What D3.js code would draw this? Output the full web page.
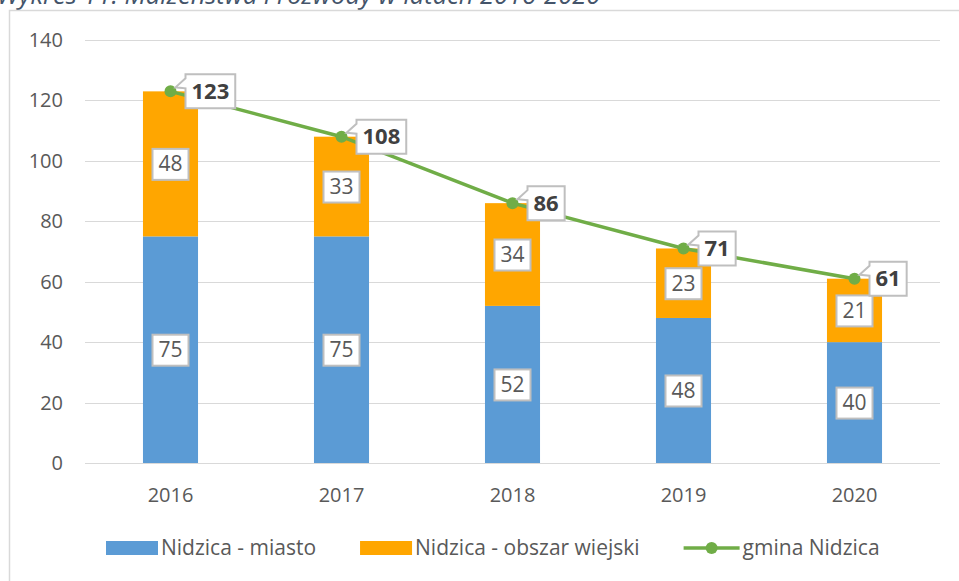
<!DOCTYPE html>
<html>
<head>
<meta charset="utf-8">
<script src="https://cdn.jsdelivr.net/npm/d3@7"></script>
<style>
  body { margin: 0; background: #fff; }
  text { font-family: 'Open Sans', sans-serif; }
</style>
</head>
<body>
<div id="chart"></div>
<script>
const years = ['2016', '2017', '2018', '2019', '2020']
const miasto = [75, 75, 52, 48, 40]
const wiejski = [48, 33, 34, 23, 21]
const gmina = [123, 108, 86, 71, 61]
const yTicks = [0, 20, 40, 60, 80, 100, 120, 140]
const seriesNames = ['Nidzica - miasto', 'Nidzica - obszar wiejski', 'gmina Nidzica']

const width = 959
const height = 581
const blue = '#5B9BD5'
const orange = '#FFA600'
const green = '#70AD47'

const svg = d3
  .select('#chart')
  .append('svg')
  .attr('width', width)
  .attr('height', height)

// title, cut off at the top as in the source
svg.append('text')
  .text('Wykres 11. Małżeństwa i rozwody w latach 2016-2020')
  .attr('x', -3)
  .attr('y', 4)
  .attr('font-size', 25.5)
  .attr('font-style', 'italic')
  .attr('fill', '#44546A')

svg.append('rect')
  .attr('x', 9.5)
  .attr('y', 10.5)
  .attr('width', 960)
  .attr('height', 600)
  .attr('fill', 'none')
  .attr('stroke', '#d9d9d9')
  .attr('stroke-width', 1.5)

const x = d3.scaleBand().domain(years).range([85, 940]).paddingInner(0.678).paddingOuter(0.339)
const y = d3.scaleLinear().domain([0, 140]).range([463, 40])

// gridlines + y labels
svg.selectAll('.grid')
  .data(yTicks)
  .enter()
  .append('line')
  .attr('x1', 85)
  .attr('x2', 940)
  .attr('y1', d => Math.round(y(d)) + 0.5)
  .attr('y2', d => Math.round(y(d)) + 0.5)
  .attr('stroke', '#d9d9d9')
  .attr('stroke-width', 1)

svg.selectAll('.ytick')
  .data(yTicks)
  .enter()
  .append('text')
  .text(d => d)
  .attr('x', 63)
  .attr('y', d => y(d))
  .attr('dy', '0.35em')
  .attr('text-anchor', 'end')
  .attr('font-size', 20)
  .attr('fill', '#595959')

svg.selectAll('.xtick')
  .data(years)
  .enter()
  .append('text')
  .text(d => d)
  .attr('x', d => x(d) + x.bandwidth() / 2)
  .attr('y', 495)
  .attr('dy', '0.35em')
  .attr('text-anchor', 'middle')
  .attr('font-size', 20)
  .attr('fill', '#595959')

// stacked bars
const stacked = years.map((yr, i) => ({ year: yr, m: miasto[i], w: wiejski[i] }))

svg.selectAll('.bar-m')
  .data(stacked)
  .enter()
  .append('rect')
  .attr('x', d => x(d.year))
  .attr('width', x.bandwidth())
  .attr('y', d => y(d.m))
  .attr('height', d => y(0) - y(d.m))
  .attr('fill', blue)

svg.selectAll('.bar-w')
  .data(stacked)
  .enter()
  .append('rect')
  .attr('x', d => x(d.year))
  .attr('width', x.bandwidth())
  .attr('y', d => y(d.m + d.w))
  .attr('height', d => y(d.m) - y(d.m + d.w))
  .attr('fill', orange)

// boxed labels inside the segments
function boxLabel(cx, cy, value) {
  const g = svg.append('g')
  const t = g.append('text')
    .text(value)
    .attr('x', cx)
    .attr('y', cy)
    .attr('dy', '0.35em')
    .attr('text-anchor', 'middle')
    .attr('font-size', 21)
    .attr('fill', '#595959')
  const w = t.node().getComputedTextLength() + 12
  g.insert('rect', 'text')
    .attr('x', cx - w / 2)
    .attr('y', cy - 15)
    .attr('width', w)
    .attr('height', 31)
    .attr('fill', '#fff')
    .attr('stroke', '#bfbfbf')
    .attr('stroke-width', 2)
}

stacked.forEach(d => {
  const cx = x(d.year) + x.bandwidth() / 2
  boxLabel(cx, y(d.m / 2), d.m)
  boxLabel(cx, y(d.m + d.w / 2), d.w)
})

// total line
const line = d3.line()
  .x((d, i) => x(years[i]) + x.bandwidth() / 2)
  .y(d => y(d))

svg.append('path')
  .datum(gmina)
  .attr('d', line)
  .attr('fill', 'none')
  .attr('stroke', green)
  .attr('stroke-width', 3.5)

svg.selectAll('.dot')
  .data(gmina)
  .enter()
  .append('circle')
  .attr('cx', (d, i) => x(years[i]) + x.bandwidth() / 2)
  .attr('cy', d => y(d))
  .attr('r', 6)
  .attr('fill', green)

// callout labels for the totals
gmina.forEach((v, i) => {
  const px = x(years[i]) + x.bandwidth() / 2
  const py = y(v)
  const g = svg.append('g')
  const left = px + 15
  const t = g.append('text')
    .text(v)
    .attr('y', py)
    .attr('dy', '0.35em')
    .attr('font-size', 22)
    .attr('font-weight', 'bold')
    .attr('fill', '#404040')
  const w = t.node().getComputedTextLength() + 12
  t.attr('x', left + w / 2).attr('text-anchor', 'middle')
  const top = py - 17
  const bottom = py + 17
  g.insert('path', 'text')
    .attr('d', `M${left},${top} H${left + w} V${bottom} H${left} V${top + 14} L${px + 5},${py - 4} L${left},${top + 4} Z`)
    .attr('fill', '#fff')
    .attr('stroke', '#bfbfbf')
    .attr('stroke-width', 2)
})

// legend
const legend = svg.append('g')
let lx = 106
const ly = 548
seriesNames.forEach((name, i) => {
  if (i < 2) {
    legend.append('rect')
      .attr('x', lx)
      .attr('y', ly - 7)
      .attr('width', 52)
      .attr('height', 14)
      .attr('fill', i === 0 ? blue : orange)
  } else {
    legend.append('line')
      .attr('x1', lx).attr('x2', lx + 56)
      .attr('y1', ly).attr('y2', ly)
      .attr('stroke', green)
      .attr('stroke-width', 3.5)
    legend.append('circle')
      .attr('cx', lx + 28)
      .attr('cy', ly)
      .attr('r', 6)
      .attr('fill', green)
  }
  const sw = i < 2 ? 52 : 56
  const t = legend.append('text')
    .text(name)
    .attr('x', lx + sw + 3)
    .attr('y', ly)
    .attr('dy', '0.35em')
    .attr('font-size', 21)
    .attr('fill', '#595959')
  lx += sw + 3 + t.node().getComputedTextLength() + 44
})
</script>
</body>
</html>
